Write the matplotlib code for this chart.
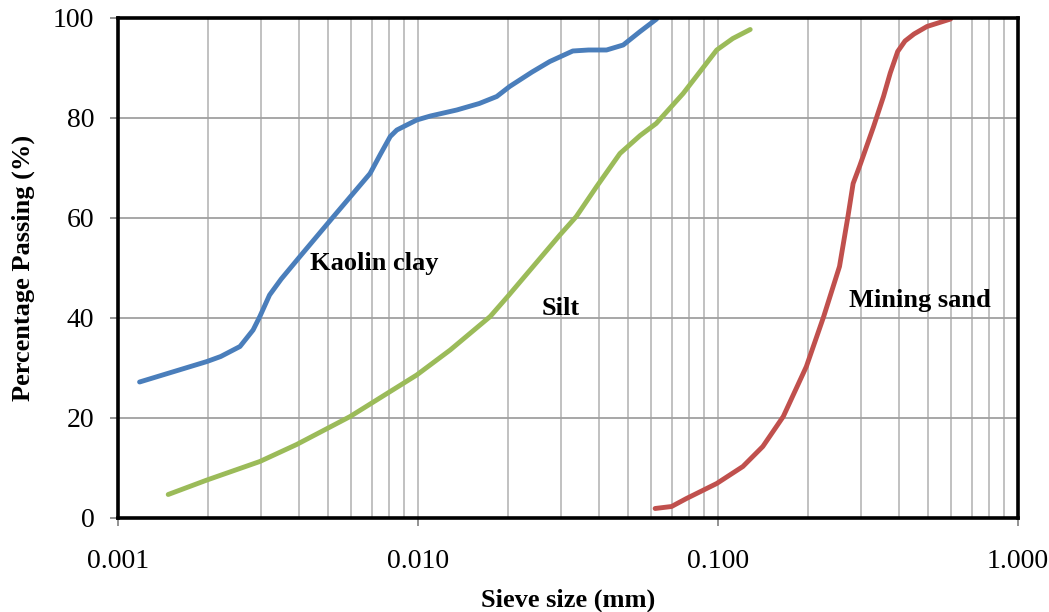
import matplotlib
matplotlib.use("Agg")
from matplotlib import pyplot as plt
from matplotlib.ticker import FixedLocator, NullFormatter, FuncFormatter

plt.rcParams['font.family'] = ['Liberation Serif', 'DejaVu Serif']

# grain size curves (size in mm, % passing)
kaolin_size = [0.00118, 0.00198, 0.0022, 0.00255, 0.00282, 0.00297, 0.0032, 0.0035,
               0.00404, 0.00523, 0.00692, 0.0075, 0.00808, 0.0085, 0.00917, 0.0099,
               0.011, 0.01346, 0.016, 0.0183, 0.0202, 0.024, 0.0275, 0.0328, 0.037,
               0.0425, 0.0483, 0.055, 0.0624]
kaolin_pass = [27.2, 31.3, 32.3, 34.3, 37.6, 40.3, 44.6, 47.8, 52.3, 60.3, 68.9, 72.8,
               76.3, 77.6, 78.6, 79.6, 80.4, 81.6, 82.9, 84.3, 86.3, 89.2, 91.3, 93.4,
               93.6, 93.6, 94.6, 97.3, 99.8]

silt_size = [0.00147, 0.00198, 0.00297, 0.00394, 0.00594, 0.0099, 0.0128, 0.0174,
             0.0199, 0.0297, 0.0337, 0.0394, 0.0471, 0.055, 0.0622, 0.0765, 0.099,
             0.112, 0.128]
silt_pass = [4.7, 7.6, 11.3, 14.7, 20.3, 28.6, 33.6, 40.3, 44.3, 56.6, 60.3, 66.3,
             72.9, 76.5, 78.9, 84.9, 93.6, 95.9, 97.7]

sand_size = [0.0617, 0.070, 0.0785, 0.099, 0.121, 0.141, 0.165, 0.197, 0.225, 0.254,
             0.271, 0.282, 0.297, 0.33, 0.356, 0.375, 0.397, 0.42, 0.45, 0.497, 0.596]
sand_pass = [1.9, 2.3, 3.9, 6.9, 10.3, 14.3, 20.3, 30.3, 40.3, 50.3, 60.3, 66.9,
             70.5, 78.3, 84.3, 89.0, 93.3, 95.4, 96.8, 98.3, 99.8]

x_major = [0.001, 0.01, 0.1, 1.0]
y_ticks = [0, 20, 40, 60, 80, 100]

fig = plt.figure(figsize=(10.49, 6.12), dpi=100)
ax = fig.add_axes([0.1125, 0.1536, 0.858, 0.817])

ax.set_xscale('log')
ax.set_xlim(0.001, 1.0)
ax.set_ylim(0, 100)

# gridlines at every 1..9 of each decade
grid_x = [m * 10.0 ** e for e in (-3, -2, -1) for m in range(1, 10)][1:]
for gx in grid_x:
    ax.axvline(gx, color='#bcbcbc', lw=1.3, zorder=1)
for gy in y_ticks[1:-1]:
    ax.axhline(gy, color='#a0a0a0', lw=1.3, zorder=1)

ax.plot(kaolin_size, kaolin_pass, color='#4a7ebb', lw=3.5, solid_capstyle='round',
        solid_joinstyle='round', zorder=3)
ax.plot(silt_size, silt_pass, color='#9bbb59', lw=3.5, solid_capstyle='round',
        solid_joinstyle='round', zorder=3)
ax.plot(sand_size, sand_pass, color='#c0504d', lw=3.5, solid_capstyle='round',
        solid_joinstyle='round', zorder=3)

lab = dict(fontsize=19, fontweight='bold', va='center', zorder=4)
ax.text(0.00435, 50.8, 'Kaolin clay', ha='left', **lab)
ax.text(0.0258, 41.9, 'Silt', ha='left', **lab)
ax.text(0.273, 43.5, 'Mining sand', ha='left', **lab)

ax.xaxis.set_major_locator(FixedLocator(x_major))
ax.xaxis.set_major_formatter(FuncFormatter(lambda v, p: f'{v:.3f}'))
ax.xaxis.set_minor_locator(FixedLocator([]))
ax.xaxis.set_minor_formatter(NullFormatter())
ax.set_yticks(y_ticks)

ax.tick_params(axis='both', direction='out', length=6, width=1.2, color='#808080',
               labelsize=20, pad=11)
ax.tick_params(axis='x', pad=16)

for s in ax.spines.values():
    s.set_linewidth(2.6)
    s.set_color('black')
    s.set_zorder(5)

ax.set_xlabel('Sieve size (mm)', fontsize=19, fontweight='bold', labelpad=11)
ax.set_ylabel('Percentage Passing (%)', fontsize=19, fontweight='bold', labelpad=13)

fig.savefig('out.png', dpi=100)
